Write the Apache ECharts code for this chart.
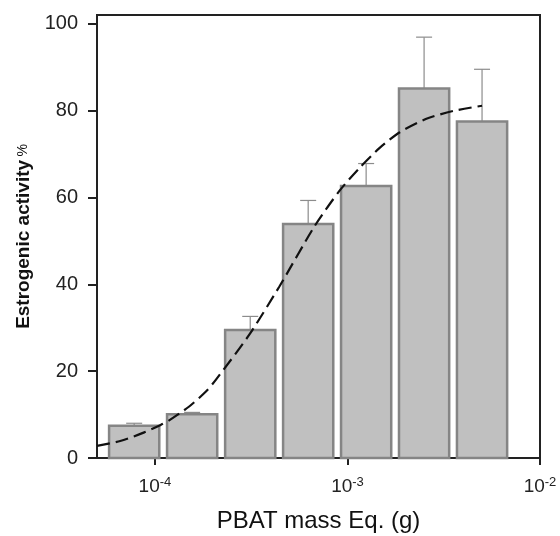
<!DOCTYPE html>
<html>
<head>
<meta charset="utf-8">
<script src="https://cdn.jsdelivr.net/npm/echarts@6/dist/echarts.min.js"></script>
<style>
  html, body { margin: 0; padding: 0; background: #fff; }
  #chart { width: 560px; height: 536px; }
</style>
</head>
<body>
<div id="chart"></div>
<script>
// PBAT mass equivalents (g) for each bar
const doses = [7.8e-5, 1.56e-4, 3.125e-4, 6.25e-4, 1.25e-3, 2.5e-3, 5e-3]
// mean estrogenic activity (%) and upper error bar end
const activity = [7.4, 10.1, 29.5, 53.9, 62.6, 85.1, 77.5]
const errUpper = [8.0, 10.5, 32.6, 59.3, 67.8, 96.9, 89.5]

// fitted dose-response curve
const curveX = [5.0e-5, 6.6e-5, 8.8e-5, 1.07e-4, 1.18e-4, 1.5e-4, 1.84e-4, 2.07e-4, 3.09e-4,
  4.43e-4, 6.73e-4, 9.08e-4, 1.155e-3, 1.47e-3, 1.87e-3, 2.57e-3, 3.54e-3, 5.0e-3]
const curveY = [2.8, 3.9, 5.9, 7.6, 8.6, 11.8, 15.3, 18.0, 28.4,
  39.5, 53.3, 61.5, 66.8, 71.4, 75.0, 78.1, 79.9, 81.1]

const xTicks = [1e-4, 1e-3, 1e-2]
const yTicks = [0, 20, 40, 60, 80, 100]

const barSpan = 1.35 // bar half-width as a factor on the log axis
const font = '"Liberation Sans", Arial, sans-serif'

const chart = echarts.init(document.getElementById('chart'))

chart.setOption({
  animation: false,
  grid: {
    left: 97, top: 15, right: 20, bottom: 78,
    outerBoundsMode: 'none',
    show: true, borderColor: '#222', borderWidth: 2,
  },
  xAxis: {
    type: 'log',
    logBase: 10,
    min: 5e-5,
    max: 1e-2,
    name: 'PBAT mass Eq. (g)',
    nameLocation: 'middle',
    nameGap: 51,
    nameTextStyle: { fontFamily: font, fontSize: 24, color: '#111' },
    axisLine: { lineStyle: { color: '#222', width: 2 } },
    axisTick: { show: true, length: 7, customValues: xTicks, lineStyle: { color: '#222', width: 2 } },
    axisLabel: {
      customValues: xTicks,
      margin: 18,
      formatter: v => '{b|10}{s|' + Math.round(Math.log10(v)) + '}',
      rich: {
        b: { fontFamily: font, fontSize: 19, color: '#222' },
        s: { fontFamily: font, fontSize: 13, color: '#222', verticalAlign: 'top', padding: [0, 0, 8, 0] },
      },
    },
    splitLine: { show: false },
    minorTick: { show: false },
  },
  yAxis: {
    type: 'value',
    min: 0,
    max: 102,
    name: '{b|Estrogenic activity} {p|%}',
    nameLocation: 'middle',
    nameRotate: 90,
    nameGap: 64,
    nameTextStyle: {
      rich: {
        b: { fontFamily: font, fontSize: 19, fontWeight: 'bold', color: '#111' },
        p: { fontFamily: font, fontSize: 14, color: '#111' },
      },
    },
    axisLine: { show: true, lineStyle: { color: '#222', width: 2 } },
    axisTick: { show: true, length: 9, customValues: yTicks, lineStyle: { color: '#222', width: 2 } },
    axisLabel: { customValues: yTicks, margin: 19, fontFamily: font, fontSize: 20, color: '#222' },
    splitLine: { show: false },
  },
  series: [
    {
      type: 'custom',
      name: 'error',
      data: doses.map((d, i) => [d, activity[i], errUpper[i]]),
      renderItem: (params, api) => {
        const top = api.coord([api.value(0), api.value(1)])
        const up = api.coord([api.value(0), api.value(2)])
        const style = { stroke: '#8c8c8c', lineWidth: 1.2 }
        return {
          type: 'group',
          children: [
            { type: 'line', shape: { x1: top[0], y1: top[1], x2: up[0], y2: up[1] }, style },
            { type: 'line', shape: { x1: up[0] - 8, y1: up[1], x2: up[0] + 8, y2: up[1] }, style },
          ],
        }
      },
      z: 1,
    },
    {
      type: 'custom',
      name: 'bars',
      data: doses.map((d, i) => [d, activity[i]]),
      renderItem: (params, api) => {
        const x = api.value(0)
        const tl = api.coord([x / barSpan, api.value(1)])
        const br = api.coord([x * barSpan, 0])
        return {
          type: 'rect',
          shape: { x: tl[0], y: tl[1], width: br[0] - tl[0], height: br[1] - tl[1] },
          style: { fill: '#c0c0c0', stroke: '#858585', lineWidth: 2.5 },
        }
      },
      z: 2,
    },
    {
      type: 'line',
      name: 'fit',
      data: curveX.map((x, i) => [x, curveY[i]]),
      showSymbol: false,
      smooth: 0.25,
      lineStyle: { color: '#111', width: 2.2, type: [13, 6] },
      z: 3,
    },
  ],
})
</script>
</body>
</html>
